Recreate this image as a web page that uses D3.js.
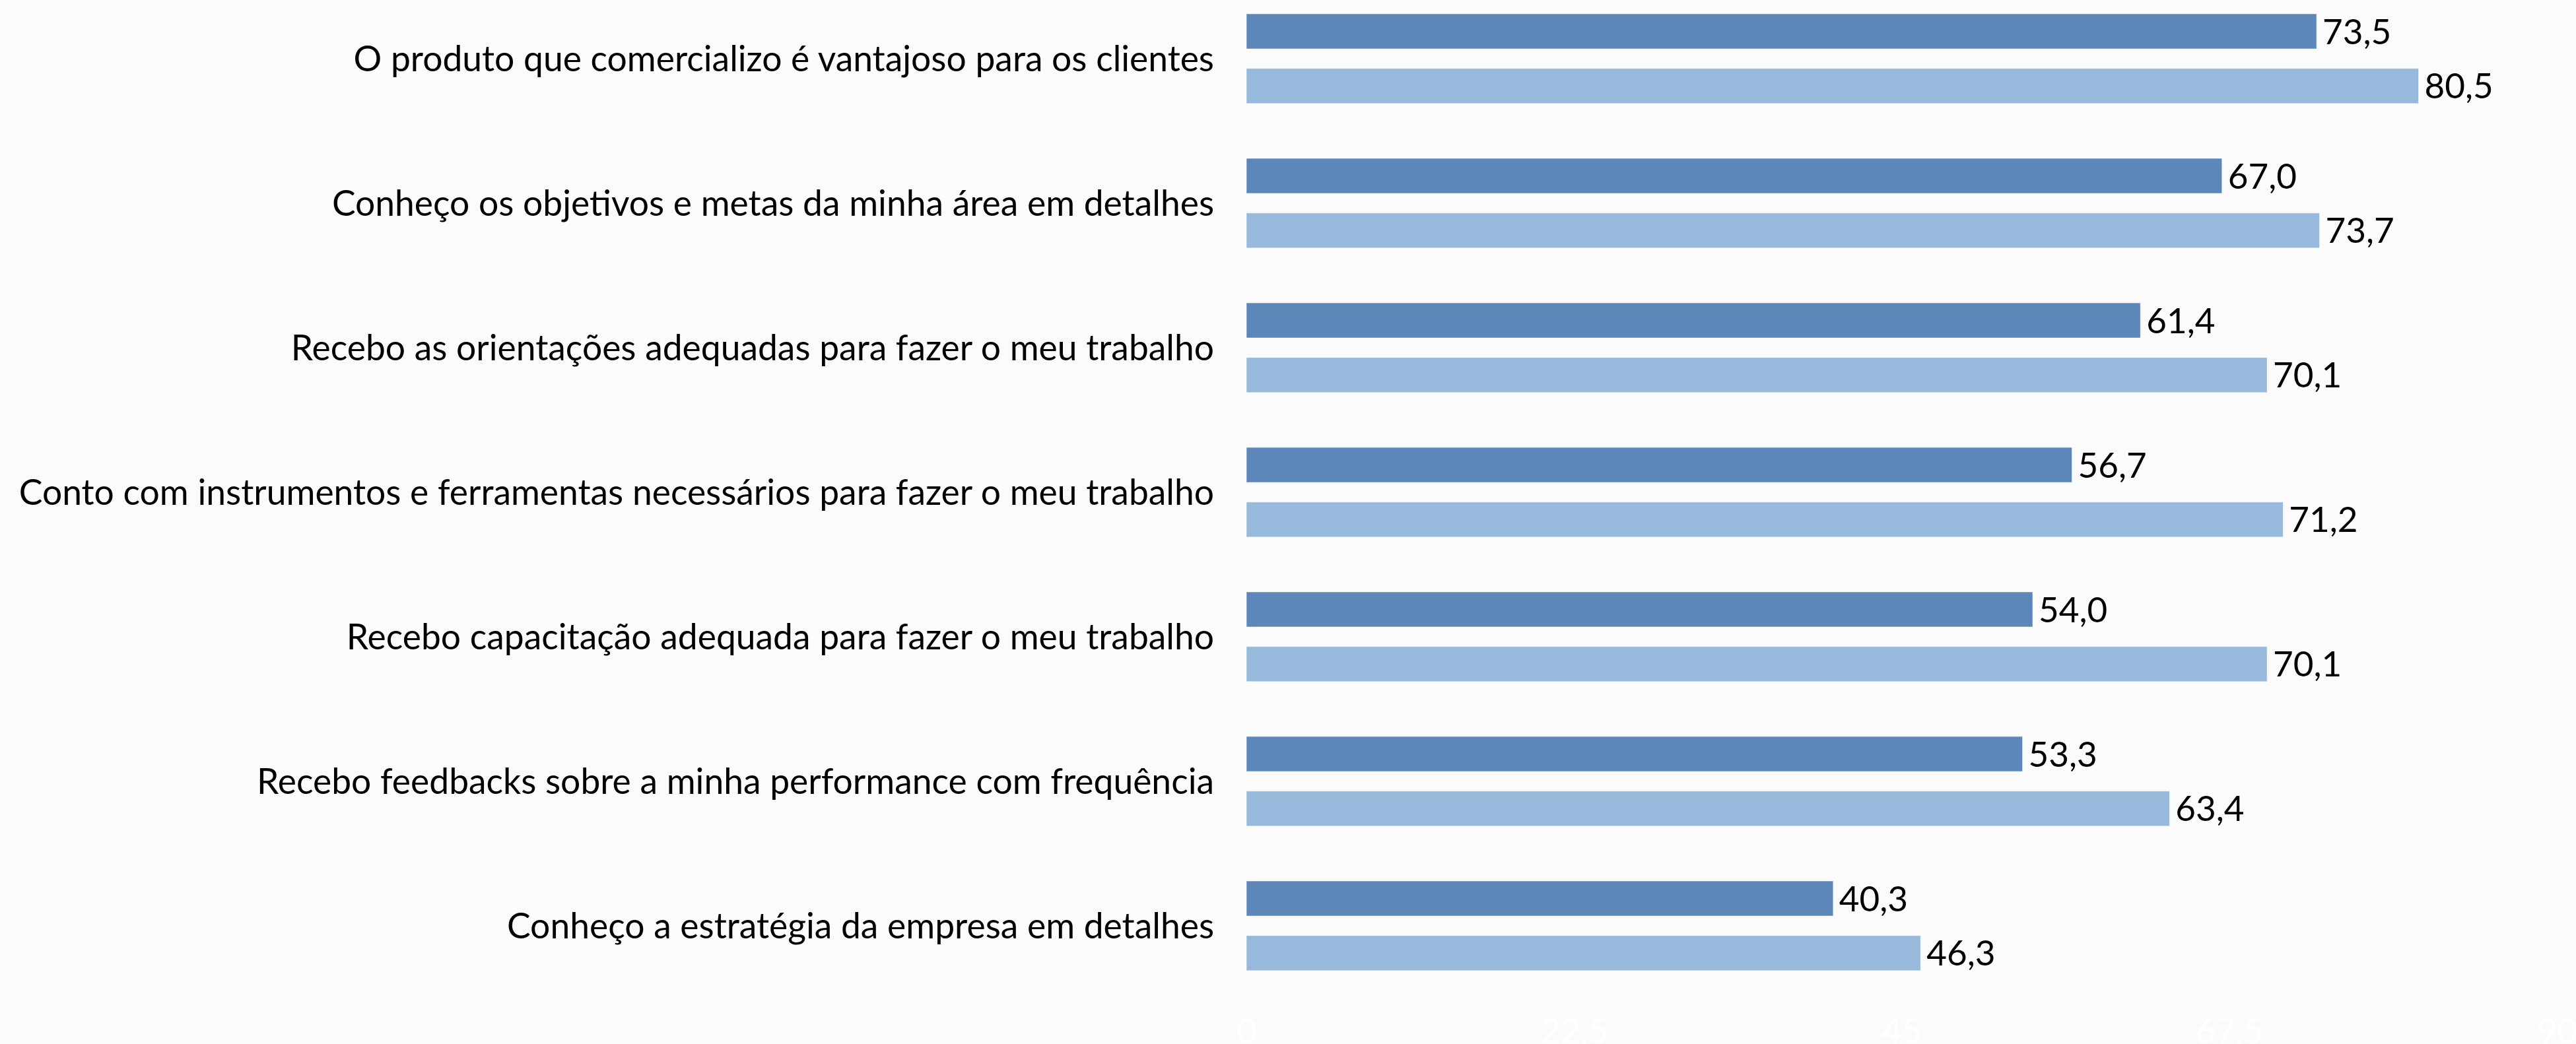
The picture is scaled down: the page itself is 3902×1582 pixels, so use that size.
<!DOCTYPE html>
<html>
<head>
<meta charset="utf-8">
<script src="https://cdn.jsdelivr.net/npm/d3@7"></script>
<style>
  body { margin: 0; background: #fbfbfb; }
  text { font-family: Lato, "Noto Sans", sans-serif; }
</style>
</head>
<body>
<div id="chart"></div>
<script>
const categories = [
  "O produto que comercializo é vantajoso para os clientes",
  "Conheço os objetivos e metas da minha área em detalhes",
  "Recebo as orientações adequadas para fazer o meu trabalho",
  "Conto com instrumentos e ferramentas necessários para fazer o meu trabalho",
  "Recebo capacitação adequada para fazer o meu trabalho",
  "Recebo feedbacks sobre a minha performance com frequência",
  "Conheço a estratégia da empresa em detalhes"
];
const seriesNames = ["s1", "s2"];
const series1 = [73.5, 67.0, 61.4, 56.7, 54.0, 53.3, 40.3];
const series2 = [80.5, 73.7, 70.1, 71.2, 70.1, 63.4, 46.3];
const xTicks = [0, 22.5, 45, 67.5, 90];

const width = 3902, height = 1582;
const colors = {s1: "#5e87b9", s2: "#97b9db"};
const fmt = v => v.toFixed(1).replace(".", ",");

const svg = d3.select("#chart").append("svg")
  .attr("width", width)
  .attr("height", height)
  .style("background", "#fbfbfb");

const x = d3.scaleLinear().domain([0, 90]).range([1888, 3873]);

const y = d3.scaleBand()
  .domain(categories)
  .range([-20.6, 1512.4])
  .paddingInner(0.38)
  .paddingOuter(0.19);

const ySub = d3.scaleBand()
  .domain(seriesNames)
  .range([0, y.bandwidth()])
  .paddingInner(0.36);

const rows = categories.map((c, i) => ({cat: c, s1: series1[i], s2: series2[i]}));

const groups = svg.selectAll(".grp")
  .data(rows)
  .enter().append("g")
  .attr("class", "grp")
  .attr("transform", d => `translate(0,${y(d.cat)})`);

groups.selectAll("rect")
  .data(d => seriesNames.map(k => ({key: k, value: d[k]})))
  .enter().append("rect")
  .attr("x", x(0))
  .attr("y", d => ySub(d.key))
  .attr("width", d => x(d.value) - x(0))
  .attr("height", ySub.bandwidth())
  .attr("fill", d => colors[d.key])
  .attr("stroke", "#ffffff")
  .attr("stroke-opacity", 0.5)
  .attr("stroke-width", 1);

groups.selectAll(".val")
  .data(d => seriesNames.map(k => ({key: k, value: d[k]})))
  .enter().append("text")
  .attr("class", "val")
  .attr("x", d => x(d.value) + 9)
  .attr("y", d => ySub(d.key) + ySub.bandwidth() / 2 + 19)
  .attr("font-size", 53)
  .attr("fill", "#000")
  .text(d => fmt(d.value));

// category labels
groups.append("text")
  .attr("x", 1839)
  .attr("y", y.bandwidth() / 2 + 19)
  .attr("text-anchor", "end")
  .attr("font-size", 53.4)
  .attr("fill", "#000")
  .text(d => d.cat);

// x axis, labels in white
const axis = svg.append("g")
  .attr("transform", "translate(0,1545)")
  .call(d3.axisBottom(x).tickValues(xTicks).tickSize(0).tickPadding(0)
    .tickFormat(v => String(v).replace(".", ",")));
axis.select(".domain").remove();
axis.selectAll("text")
  .attr("dy", null)
  .attr("y", 36)
  .attr("font-size", 52)
  .attr("font-family", "Lato, 'Noto Sans', sans-serif")
  .attr("fill", "#ffffff");
</script>
</body>
</html>
